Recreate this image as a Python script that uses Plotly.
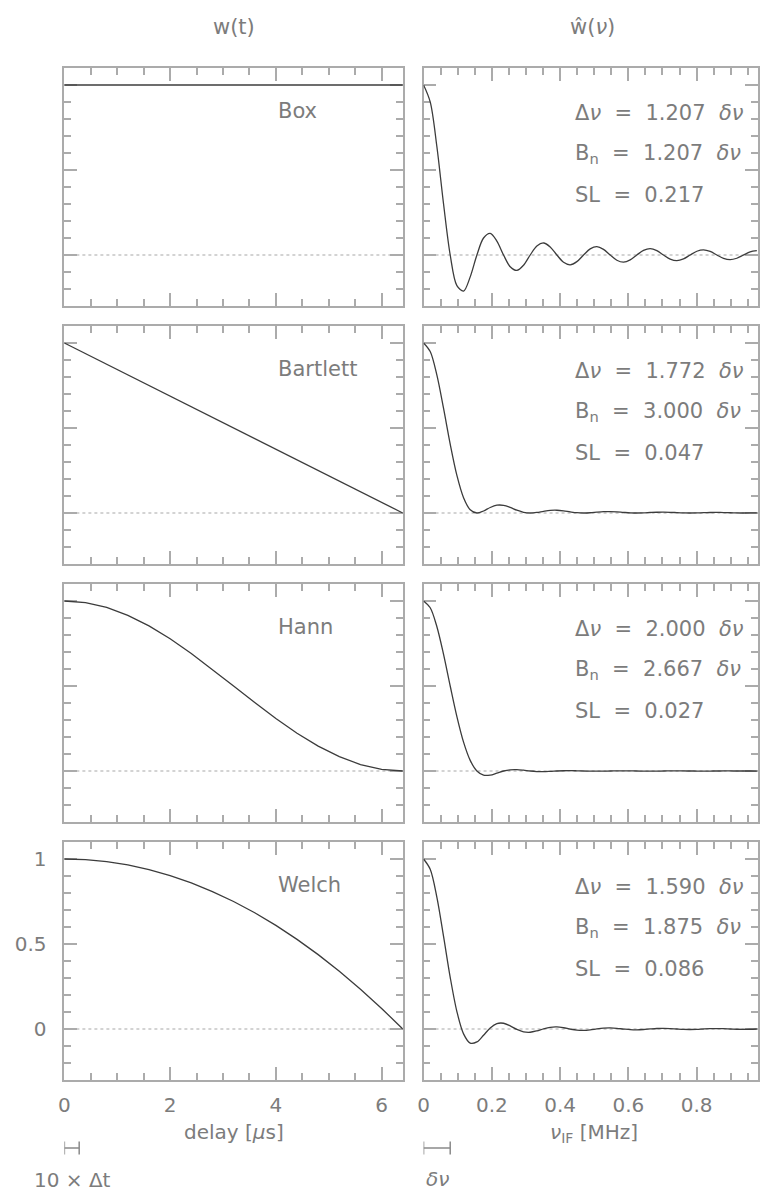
import plotly.graph_objects as go

W, H = 760, 1194

# ---------------- data ----------------
window_names = ["Box", "Bartlett", "Hann", "Welch"]
delta_nu_txt = ["1.207", "1.772", "2.000", "1.590"]
b_n_txt = ["1.207", "3.000", "2.667", "1.875"]
sl_txt = ["0.217", "0.047", "0.027", "0.086"]

delay_us = [0.0, 0.4, 0.8, 1.2, 1.6, 2.0, 2.4, 2.8, 3.2, 3.6, 4.0, 4.4, 4.8,
            5.2, 5.6, 6.0, 6.4]
w_box = [1, 1, 1, 1, 1, 1, 1, 1, 1, 1, 1, 1, 1, 1, 1, 1, 1]
w_bartlett = [1.0, 0.9375, 0.875, 0.8125, 0.75, 0.6875, 0.625, 0.5625, 0.5,
              0.4375, 0.375, 0.3125, 0.25, 0.1875, 0.125, 0.0625, 0.0]
w_hann = [1.0, 0.9904, 0.9619, 0.9157, 0.8536, 0.7778, 0.6913, 0.5976, 0.5,
          0.4025, 0.3087, 0.2222, 0.1464, 0.0843, 0.0381, 0.0096, 0.0]
w_welch = [1.0, 0.9961, 0.9844, 0.9648, 0.9375, 0.9023, 0.8594, 0.8086, 0.75,
           0.6836, 0.6094, 0.5273, 0.4375, 0.3398, 0.2344, 0.1211, 0.0]

nu_if_mhz = [0.0, 0.0195, 0.0391, 0.0586, 0.0781, 0.0977, 0.1172, 0.1367,
             0.1563, 0.1758, 0.1953, 0.2148, 0.2344, 0.2539, 0.2734, 0.2930,
             0.3125, 0.3320, 0.3516, 0.3711, 0.3906, 0.4102, 0.4297, 0.4492,
             0.4688, 0.4883, 0.5078, 0.5273, 0.5469, 0.5664, 0.5859, 0.6055,
             0.6250, 0.6445, 0.6641, 0.6836, 0.7031, 0.7227, 0.7422, 0.7617,
             0.7813, 0.8008, 0.8203, 0.8398, 0.8594, 0.8789, 0.8984, 0.9180,
             0.9375, 0.9570, 0.9766]
wh_box = [1.0, 0.9003, 0.6366, 0.3001, 0.0, -0.1801, -0.2122, -0.1286, 0.0,
          0.1000, 0.1273, 0.0818, 0.0, -0.0693, -0.0909, -0.0600, 0.0,
          0.0530, 0.0707, 0.0474, 0.0, -0.0429, -0.0579, -0.0391, 0.0,
          0.0360, 0.0490, 0.0333, 0.0, -0.0310, -0.0424, -0.0290, 0.0,
          0.0273, 0.0374, 0.0257, 0.0, -0.0243, -0.0335, -0.0231, 0.0,
          0.0220, 0.0303, 0.0209, 0.0, -0.0200, -0.0277, -0.0192, 0.0,
          0.0184, 0.0255]
wh_bartlett = [1.0, 0.9496, 0.8106, 0.6150, 0.4053, 0.2214, 0.0901, 0.0194,
               0.0, 0.0117, 0.0324, 0.0457, 0.0450, 0.0328, 0.0165, 0.0042,
               0.0, 0.0033, 0.0100, 0.0153, 0.0162, 0.0126, 0.0067, 0.0018,
               0.0, 0.0015, 0.0048, 0.0076, 0.0083, 0.0066, 0.0036, 0.0010,
               0.0, 0.0009, 0.0028, 0.0045, 0.0050, 0.0040, 0.0022, 0.0006,
               0.0, 0.0006, 0.0018, 0.0030, 0.0033, 0.0027, 0.0015, 0.0004,
               0.0, 0.0004, 0.0013]
wh_hann = [1.0, 0.9603, 0.8488, 0.6860, 0.5, 0.3202, 0.1698, 0.0624, 0.0,
           -0.0246, -0.0242, -0.0125, 0.0, 0.0072, 0.0081, 0.0046, 0.0,
           -0.0031, -0.0037, -0.0022, 0.0, 0.0016, 0.0020, 0.0012, 0.0,
           -0.0009, -0.0012, -0.0007, 0.0, 0.0006, 0.0008, 0.0005, 0.0,
           -0.0004, -0.0005, -0.0003, 0.0, 0.0003, 0.0004, 0.0002, 0.0,
           -0.0002, -0.0003, -0.0002, 0.0, 0.0002, 0.0002, 0.0001, 0.0,
           -0.0001, -0.0002]
wh_welch = [1.0, 0.9397, 0.7740, 0.5443, 0.3040, 0.1025, -0.0287, -0.0830,
            -0.0760, -0.0365, 0.0062, 0.0317, 0.0338, 0.0184, -0.0023,
            -0.0166, -0.0190, -0.0110, 0.0011, 0.0102, 0.0122, 0.0073,
            -0.0006, -0.0069, -0.0084, -0.0052, 0.0004, 0.0049, 0.0062,
            0.0039, -0.0002, -0.0037, -0.0047, -0.0030, 0.0002, 0.0029,
            0.0038, 0.0024, -0.0001, -0.0023, -0.0030, -0.0020, 0.0001,
            0.0019, 0.0025, 0.0017, 0.0, -0.0016, -0.0021, -0.0014, 0.0]

ten_dt_us = 0.28         # length of the "10 x Δt" scale bar
delta_nu_mhz = 0.078125  # length of the "δν" scale bar

y_ticks = [0, 0.5, 1]
y_tick_labels = ["0", "0.5", "1"]
x_ticks_delay = [0, 2, 4, 6]
x_ticks_nu = [0, 0.2, 0.4, 0.6, 0.8]

# ---------------- layout / style ----------------
FONT = "DejaVu Sans"
TXT = "#7c7c7c"
FRAME = "#ababab"
CURVE = "#3c3c3c"
FS = 20


def px(x):
    return x / W


def py(y):
    return 1 - y / H


left_dom = [px(59), px(401)]
right_dom = [px(422), 1.0]
row_tops = [68, 326, 584, 842]
panel_h = 238

fig = go.Figure()
left_series = [w_box, w_bartlett, w_hann, w_welch]
right_series = [wh_box, wh_bartlett, wh_hann, wh_welch]

layout = dict(
    width=W, height=H,
    margin=dict(l=0, r=0, t=0, b=0),
    paper_bgcolor="white", plot_bgcolor="white",
    showlegend=False,
    font=dict(family=FONT, color=TXT, size=FS),
)

annotations = []
shapes = []


def axname(i, kind):
    return kind + ("" if i == 1 else str(i))


def label(x, y, text, size=FS, xanchor="center"):
    annotations.append(dict(
        x=px(x), y=py(y), xref="paper", yref="paper", text=text,
        showarrow=False, xanchor=xanchor, yanchor="middle",
        font=dict(family=FONT, color=TXT, size=size)))


for r in range(4):
    top = row_tops[r]
    bot = top + panel_h
    ydom = [py(bot), py(top)]
    last = (r == 3)
    for c in range(2):
        i = 2 * r + c + 1
        xa = axname(i, "xaxis")
        ya = axname(i, "yaxis")
        xref = axname(i, "x")
        yref = axname(i, "y")
        if c == 0:
            xr = [0, 6.4]
            xmd = 0.5
            dom = left_dom
            tv = x_ticks_delay
        else:
            xr = [0, 0.98]
            xmd = 0.05
            dom = right_dom
            tv = x_ticks_nu
        layout[xa] = dict(
            domain=dom, range=xr, anchor=yref, layer="below traces",
            showline=True, linecolor=FRAME, linewidth=1.6, mirror="allticks",
            ticks="inside", ticklen=13, tickwidth=1.5, tickcolor=FRAME,
            tickvals=tv, showticklabels=last,
            tickfont=dict(family=FONT, color=TXT, size=FS),
            ticklabelstandoff=6,
            minor=dict(ticks="inside", ticklen=7, tickwidth=1.5,
                       tickcolor=FRAME, dtick=xmd, tick0=0),
            showgrid=False, zeroline=False, fixedrange=True,
        )
        layout[ya] = dict(
            domain=ydom, range=[-0.3, 1.1], anchor=xref, layer="below traces",
            showline=True, linecolor=FRAME, linewidth=1.6, mirror="allticks",
            ticks="inside", ticklen=13, tickwidth=1.5, tickcolor=FRAME,
            tickvals=y_ticks, ticktext=y_tick_labels,
            showticklabels=(last and c == 0),
            tickfont=dict(family=FONT, color=TXT, size=FS),
            ticklabelstandoff=12,
            minor=dict(ticks="inside", ticklen=7, tickwidth=1.5,
                       tickcolor=FRAME, dtick=0.1, tick0=0),
            showgrid=False, zeroline=False, fixedrange=True,
        )
        # zero reference line
        shapes.append(dict(type="line", xref=xref + " domain", yref=yref,
                           x0=0, x1=1, y0=0, y1=0,
                           line=dict(color="#a8a8a8", width=1.2, dash="dot"),
                           layer="below"))
        if c == 0:
            fig.add_trace(go.Scatter(
                x=delay_us, y=left_series[r], xaxis=xref, yaxis=yref,
                mode="lines", line=dict(color=CURVE, width=1.3),
                cliponaxis=False, hoverinfo="skip"))
        else:
            fig.add_trace(go.Scatter(
                x=nu_if_mhz, y=right_series[r], xaxis=xref, yaxis=yref,
                mode="lines",
                line=dict(color=CURVE, width=1.3, shape="spline",
                          smoothing=0.9),
                hoverinfo="skip"))

    # window name label
    label(273, top + 43, window_names[r], size=21, xanchor="left")
    # right-panel statistics
    stats = [
        "Δ<i>ν</i>  =  " + delta_nu_txt[r] + "  <i>δν</i>",
        "B<sub>n</sub>  =  " + b_n_txt[r] + "  <i>δν</i>",
        "SL  =  " + sl_txt[r],
    ]
    for j, s in enumerate(stats):
        label(573, top + 45 + 41 * j, s, size=21, xanchor="left")

# column titles
label(230, 27, "w(t)", size=21)
label(593, 27, "ŵ(<i>ν</i>)", size=21)
# axis titles
label(230, 1132, "delay [<i>μ</i>s]")
label(594, 1133, "<i>ν</i><sub>IF</sub> [MHz]")
# scale bar labels
label(26, 1180, "10 × Δt", xanchor="left")
label(422, 1179, "<i>δν</i>", xanchor="left")

# scale bars (in data units of the bottom axes)
BAR = dict(color="#8a8a8a", width=1.5)
for xref, length in (("x7", ten_dt_us), ("x8", delta_nu_mhz)):
    yb = py(1148)
    hh = 6.5 / H
    shapes.append(dict(type="line", xref=xref, yref="paper", x0=0, x1=length,
                       y0=yb, y1=yb, line=BAR))
    shapes.append(dict(type="line", xref=xref, yref="paper", x0=0, x1=0,
                       y0=yb - hh, y1=yb + hh, line=BAR))
    shapes.append(dict(type="line", xref=xref, yref="paper", x0=length,
                       x1=length, y0=yb - hh, y1=yb + hh, line=BAR))

layout["annotations"] = annotations
layout["shapes"] = shapes
fig.update_layout(**layout)

fig.write_html(
    "out.html",
    config={"displayModeBar": False},
    post_script="document.body.style.margin='0';"
                "document.body.style.overflow='hidden';",
)
